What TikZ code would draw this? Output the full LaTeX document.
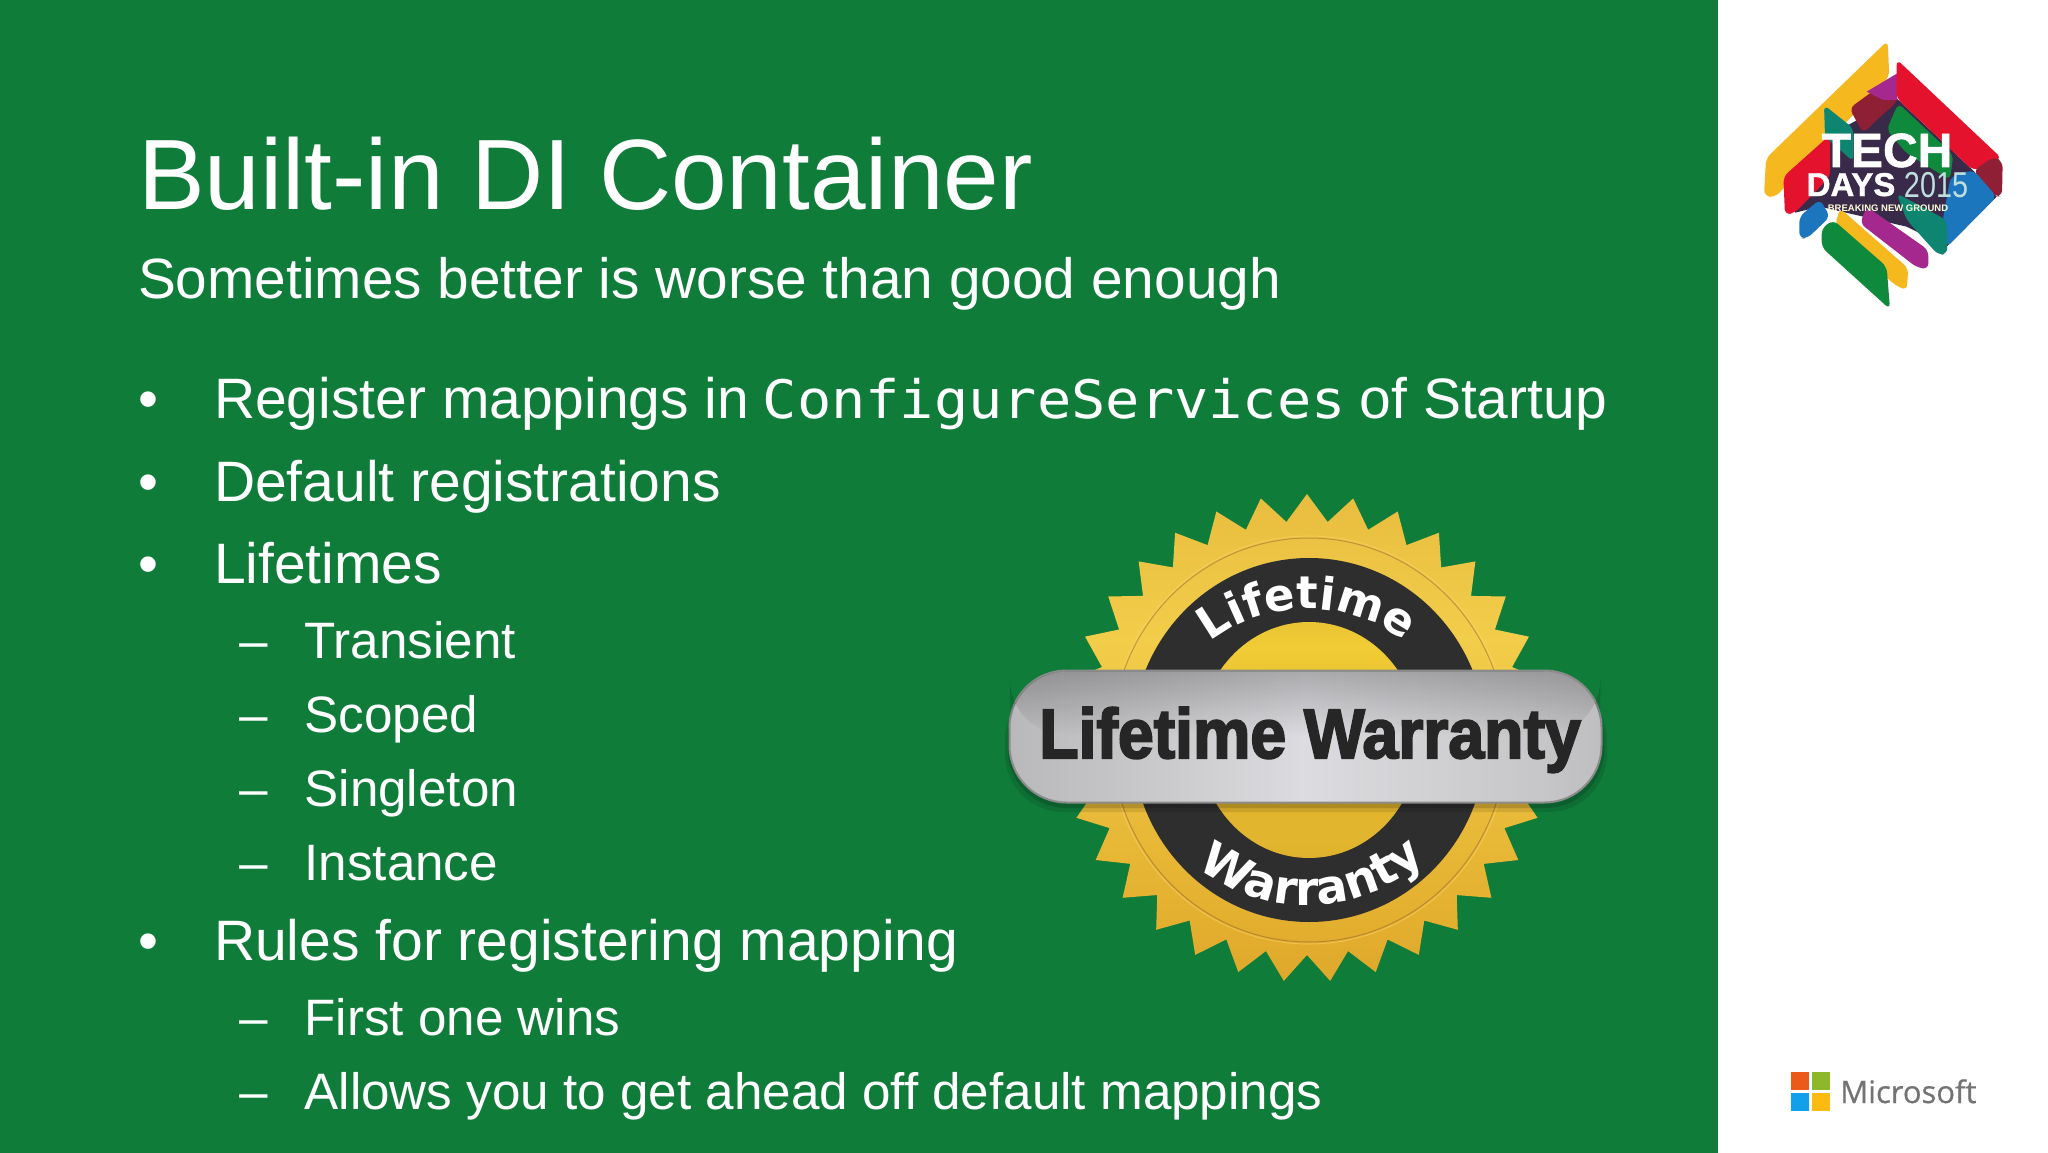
\documentclass[tikz,border=0pt]{standalone}
\usepackage{fontspec}
\usepackage{graphicx}
\setmainfont{Liberation Sans}
\newfontfamily\monofam{DejaVu Sans Mono}
\newfontfamily\sealfam[FakeBold=3]{Liberation Sans Bold}
\newfontfamily\arcfam{DejaVu Sans Bold}
\newfontfamily\msfam[FakeBold=0.6]{Open Sans}
\newfontfamily\techfam[FakeBold=1.2]{Liberation Sans Bold}
\usetikzlibrary{decorations.text,fadings}
\definecolor{slidegreen}{HTML}{107C3A}
\definecolor{logoyellow}{HTML}{F5B81E}
\definecolor{logored}{HTML}{E5122D}
\definecolor{logodkred}{HTML}{8E1F35}
\definecolor{logopurple}{HTML}{A5288E}
\definecolor{logoblue}{HTML}{1C76BE}
\definecolor{logogreen}{HTML}{0F8A3C}
\definecolor{logoteal}{HTML}{0E8570}
\definecolor{logonavy}{HTML}{3A2A4A}
\definecolor{msred}{HTML}{EA5A1A}
\definecolor{msgreen}{HTML}{8DB82A}
\definecolor{msblue}{HTML}{12A0EA}
\definecolor{msyellow}{HTML}{FDBB12}
\definecolor{gA}{HTML}{C48E22}
\definecolor{gB}{HTML}{E3AE2E}
\definecolor{gC}{HTML}{F2CD4A}
\definecolor{gD}{HTML}{E2B238}
\definecolor{gE}{HTML}{D6A42E}
\definecolor{iA}{HTML}{B98A20}
\definecolor{iB}{HTML}{E2B52E}
\definecolor{iC}{HTML}{F0CC35}
\definecolor{iD}{HTML}{C89A2A}
\definecolor{sA}{HTML}{7E7E80}
\definecolor{sB}{HTML}{A8A8AA}
\definecolor{sC}{HTML}{C6C6C8}
\definecolor{sD}{HTML}{DCDCE0}
\pgfdeclareverticalshading{goldsh}{100bp}{color(0bp)=(gA);color(30bp)=(gB);color(60bp)=(gC);color(85bp)=(gD);color(100bp)=(gE)}
\pgfdeclareverticalshading{innersh}{100bp}{color(0bp)=(iA);color(28bp)=(iB);color(45bp)=(iB);color(70bp)=(iC);color(100bp)=(iD)}
\pgfdeclarehorizontalshading{bandsh}{100bp}{color(0bp)=(sA);color(12bp)=(sB);color(35bp)=(sC);color(50bp)=(sD);color(70bp)=(sC);color(90bp)=(sB);color(100bp)=(sA)}
\tikzset{
  x=1pt,y=-1pt,
  txt/.style={anchor=base west,inner sep=0pt,outer sep=0pt,text=white},
  lone/.style={txt,font=\fontsize{57}{60}\selectfont},
  ltwo/.style={txt,font=\fontsize{51.2}{54}\selectfont},
  logopoly/.style={rounded corners=6pt},
  logotxt/.style={anchor=base,inner sep=0pt,outer sep=0pt,text=white},
  msquare/.style={inner sep=0pt,minimum size=18.6pt},
}
\begin{document}
\begin{tikzpicture}
\useasboundingbox (0,0) rectangle (2048,1153);
\fill[white] (0,0) rectangle (2048,1153);
\fill[slidegreen] (0,0) rectangle (1718,1153);

% Text
\node[txt,font=\fontsize{100}{104}\selectfont] (title) at (138,209) {Built-in DI Container};
\node[txt,font=\fontsize{56.8}{62}\selectfont] (subtitle) at (138,298) {Sometimes better is worse than good enough};

\node[lone] (b1) at (138,418) {•};
\node[lone] (t1) at (214,418) {Register mappings in\hspace*{-2.5pt} {\monofam\fontsize{53}{60}\selectfont\scalebox{1.075}[1]{ConfigureServices}}\hspace*{-2pt} of Startup};
\node[lone] (b2) at (138,501) {•};
\node[lone] (t2) at (214,501) {Default registrations};
\node[lone] (b3) at (138,583) {•};
\node[lone] (t3) at (214,583) {Lifetimes};
\node[ltwo] (d1) at (239.5,658) {–};
\node[ltwo] (s1) at (304.5,658) {Transient};
\node[ltwo] (d2) at (239.5,732) {–};
\node[ltwo] (s2) at (304.5,732) {Scoped};
\node[ltwo] (d3) at (239.5,806) {–};
\node[ltwo] (s3) at (304.5,806) {Singleton};
\node[ltwo] (d4) at (239.5,880) {–};
\node[ltwo] (s4) at (304.5,880) {Instance};
\node[lone] (b4) at (138,960) {•};
\node[lone] (t4) at (214,960) {Rules for registering mapping};
\node[ltwo] (d5) at (239.5,1035) {–};
\node[ltwo] (s5) at (304.5,1035) {First one wins};
\node[ltwo] (d6) at (239.5,1109) {–};
\node[ltwo] (s6) at (304.5,1109) {Allows you to get ahead off default mappings};

% Seal
\begin{scope}[shift={(1307,738)}]
  \shade[shading=goldsh]
    (90:244pt and 244pt)
    \foreach \i in {0,...,32}{
      -- ({90+\i*10.909}:244pt and 244pt) -- ({95.45+\i*10.909}:217pt and 217pt)
    } -- cycle;
  \draw[draw=white!60!yellow!70!orange,opacity=.5,line width=1pt] (2,2) ellipse [x radius=199pt,y radius=204pt];
  \draw[draw=brown!70!black,opacity=.45,line width=1pt] (2,2) ellipse [x radius=197pt,y radius=202pt];
  \fill[black!82] (2,2) ellipse [x radius=177pt,y radius=182pt];
  \shade[shading=innersh] (2,2) ellipse [x radius=110pt,y radius=118pt];
  \path[decorate,decoration={text along path,text align=center,text color=white,
        text={|\arcfam\fontsize{45}{48}\selectfont|Lifetime}}]
     (138:146pt and 129pt) arc[start angle=138,end angle=42,x radius=146pt,y radius=129pt];
  \path[decorate,decoration={text along path,text align=center,text color=white,
        text={|\arcfam\fontsize{47}{50}\selectfont|Warranty}}]
     (222:172pt and 167pt) arc[start angle=222,end angle=322,x radius=172pt,y radius=167pt];
\end{scope}
% Band
\fill[black,opacity=.10,rounded corners=58pt] (1005,682) rectangle (1607,812);
\fill[black,opacity=.14,rounded corners=58pt] (1008,680) rectangle (1604,808);
\node[draw={black!45},line width=2pt,rounded corners=57pt,minimum width=592pt,minimum height=132pt,inner sep=0pt,shading=bandsh] (band) at (1305.5,736.5) {};
\fill[black,opacity=.22,path fading=south,rounded corners=56pt] (1010,671.5) rectangle (1601,735);
\node[anchor=base,inner sep=0pt,text={black!85},font=\sealfam\fontsize{70}{74}\selectfont] (bandtext) at (1310,758) {\scalebox{.92}[1]{Lifetime Warranty}};

% Tech Days logo (coordinates of the 3x crop)
\begin{scope}[shift={(1720,20)},x=.33333pt,y=-.33333pt]
  \fill[logonavy] (330,345) -- (530,235) -- (760,452) -- (830,530) -- (680,680) -- (560,620) -- (300,560) -- (225,578) -- (225,470) -- cycle;
  \fill[logoyellow,logopoly] (503,62) -- (508,170) -- (165,532) -- (132,528) -- (138,415) -- cycle;
  \fill[logored,logopoly] (330,345) -- (330,470) -- (225,578) -- (195,585) -- (190,470) -- cycle;
  \fill[logodkred,logopoly] (388,265) -- (532,160) -- (532,245) -- (470,300) -- (430,340) -- cycle;
  \fill[logopurple] (440,215) -- (532,160) -- (532,240) -- (490,240) -- cycle;
  \fill[logored,logopoly] (530,118) -- (845,415) -- (760,452) -- (530,235) -- cycle;
  \fill[logodkred,logopoly] (760,452) -- (822,410) -- (848,425) -- (846,528) -- (825,530) -- cycle;
  \fill[logogreen,logopoly] (535,250) -- (700,405) -- (690,480) -- (560,400) -- (500,330) -- cycle;
  \fill[logoteal,logopoly] (312,255) -- (400,325) -- (400,425) -- (315,350) -- cycle;
  \fill[logoblue,logopoly] (692,470) -- (760,450) -- (830,530) -- (680,682) -- (668,600) -- cycle;
  \fill[logoteal,logopoly] (530,520) -- (680,600) -- (682,702) -- (655,705) -- (560,600) -- cycle;
  \fill[logopurple,logopoly] (440,560) -- (625,690) -- (625,748) -- (590,742) -- (420,610) -- cycle;
  \fill[logoyellow,logopoly] (360,565) -- (565,745) -- (560,812) -- (520,792) -- (345,615) -- cycle;
  \fill[logoblue,logopoly] (238,590) -- (300,538) -- (330,590) -- (262,655) -- (238,655) -- cycle;
  \fill[logogreen,logopoly] (305,625) -- (340,600) -- (500,740) -- (510,868) -- (305,682) -- cycle;
\end{scope}
\node[logotxt,font=\techfam\fontsize{48}{50}\selectfont] (tech) at (1887,167) {TECH};
\node[logotxt,font=\techfam\fontsize{33}{35}\selectfont] (days) at (1851,196) {DAYS};
\node[logotxt,text={white!75!teal},font=\fontsize{36}{38}\selectfont] (yr) at (1936,197) {\scalebox{.8}[1]{2015}};
\node[logotxt,text={white!85!yellow},font=\bfseries\fontsize{9.5}{12}\selectfont] (tag) at (1888,211) {BREAKING NEW GROUND};

% Microsoft logo
\node[msquare,fill=msred] (msr) at (1800,1081) {};
\node[msquare,fill=msgreen] (msg) at (1821,1081) {};
\node[msquare,fill=msblue] (msb) at (1800,1102) {};
\node[msquare,fill=msyellow] (msy) at (1821,1102) {};
\node[anchor=base west,inner sep=0pt,text={black!55},font=\msfam\fontsize{31}{34}\selectfont] (mstext) at (1840,1103) {Microsoft};
\end{tikzpicture}
\end{document}
